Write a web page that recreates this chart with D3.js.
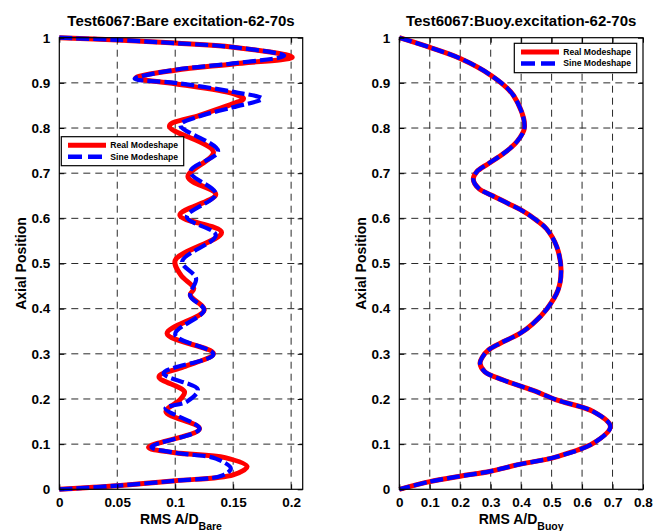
<!DOCTYPE html>
<html><head><meta charset="utf-8">
<script src="https://cdn.jsdelivr.net/npm/d3@7"></script>
<style>
body{margin:0;background:#fff}
text{font-family:"Liberation Sans",Arial,Helvetica,sans-serif;font-weight:bold;fill:#000}
</style>
</head><body>
<svg id="chart" width="654" height="531"></svg>
<script>
// ---------- data ----------
const posTicks = [0,0.1,0.2,0.3,0.4,0.5,0.6,0.7,0.8,0.9,1];
const posTickLabels = ["0","0.1","0.2","0.3","0.4","0.5","0.6","0.7","0.8","0.9","1"];
const bareTicks = [0,0.05,0.1,0.15,0.2];
const bareTickLabels = ["0","0.05","0.1","0.15","0.2"];
const buoyTicks = [0,0.1,0.2,0.3,0.4,0.5,0.6,0.7,0.8];
const buoyTickLabels = ["0","0.1","0.2","0.3","0.4","0.5","0.6","0.7","0.8"];
const seriesNames = ["Real Modeshape","Sine Modeshape"];
const titles = ["Test6067:Bare excitation-62-70s","Test6067:Buoy.excitation-62-70s"];
const subLabels = ["Bare","Buoy"];

const bareRealPos = [1.000,0.995,0.988,0.979,0.957,0.942,0.928,0.911,0.898,0.876,0.865,0.854,0.828,0.804,0.747,0.692,0.653,0.607,0.569,0.507,0.474,0.445,0.430,0.397,0.345,0.301,0.271,0.249,0.216,0.198,0.172,0.134,0.093,0.081,0.070,0.050,0.032,0.019,0.008,0.000];
const bareRealVal = [0.000,0.050,0.100,0.150,0.201,0.150,0.100,0.066,0.100,0.150,0.159,0.150,0.121,0.095,0.133,0.111,0.135,0.104,0.140,0.100,0.105,0.116,0.113,0.125,0.093,0.133,0.107,0.086,0.108,0.104,0.092,0.121,0.077,0.100,0.143,0.162,0.150,0.100,0.050,0.000];

const bareSinePos = [1.000,0.995,0.988,0.979,0.960,0.943,0.929,0.909,0.900,0.880,0.865,0.846,0.826,0.806,0.749,0.703,0.654,0.603,0.563,0.504,0.467,0.428,0.397,0.343,0.299,0.257,0.221,0.194,0.179,0.134,0.094,0.081,0.068,0.046,0.030,0.019,0.008,0.000];
const bareSineVal = [0.000,0.050,0.100,0.150,0.194,0.150,0.100,0.065,0.100,0.150,0.175,0.150,0.121,0.1045,0.137,0.113,0.135,0.110,0.135,0.106,0.118,0.113,0.125,0.100,0.133,0.090,0.1195,0.110,0.0916,0.121,0.0795,0.100,0.135,0.148,0.140,0.100,0.050,0.000];

const buoyRealPos = [1.000,0.979,0.954,0.917,0.872,0.802,0.769,0.743,0.721,0.703,0.686,0.666,0.651,0.633,0.618,0.596,0.577,0.537,0.485,0.441,0.400,0.367,0.345,0.323,0.308,0.293,0.279,0.260,0.242,0.219,0.198,0.172,0.139,0.102,0.072,0.054,0.040,0.029,0.017,0.000];
const buoyRealVal = [0.000,0.098,0.200,0.300,0.375,0.411,0.385,0.341,0.292,0.254,0.243,0.261,0.303,0.357,0.401,0.450,0.483,0.517,0.531,0.521,0.485,0.439,0.396,0.330,0.292,0.273,0.265,0.281,0.341,0.439,0.516,0.637,0.693,0.637,0.516,0.386,0.300,0.200,0.100,0.000];

const buoySinePos = [1.000,0.979,0.954,0.917,0.872,0.802,0.769,0.743,0.721,0.703,0.686,0.666,0.651,0.633,0.618,0.596,0.577,0.537,0.485,0.441,0.400,0.367,0.345,0.323,0.308,0.293,0.279,0.260,0.242,0.219,0.198,0.172,0.139,0.102,0.072,0.054,0.040,0.029,0.017,0.000];
const buoySineVal = [0.000,0.098,0.200,0.300,0.375,0.411,0.385,0.341,0.292,0.254,0.243,0.261,0.303,0.357,0.401,0.450,0.483,0.517,0.531,0.521,0.485,0.439,0.396,0.330,0.292,0.273,0.265,0.281,0.341,0.439,0.516,0.637,0.693,0.637,0.516,0.386,0.300,0.200,0.100,0.000];

// ---------- drawing ----------
const svg = d3.select("#chart");
const zip = (p, v) => p.map((d, i) => ({pos: d, val: v[i]}));

const panels = [
  {x0:59.3, x1:302.7, domain:[0,0.21], ticks:bareTicks, labels:bareTickLabels,
   real:zip(bareRealPos,bareRealVal), sine:zip(bareSinePos,bareSineVal),
   title:titles[0], sub:subLabels[0], ylabX:26, leg:{x:61.3,y:136.7,w:122.4,h:29}},
  {x0:399.3, x1:643, domain:[0,0.8], ticks:buoyTicks, labels:buoyTickLabels,
   real:zip(buoyRealPos,buoyRealVal), sine:zip(buoySinePos,buoySineVal),
   title:titles[1], sub:subLabels[1], ylabX:366, leg:{x:514.3,y:43.3,w:122.4,h:29.4}}
];
const yTop = 37.7, yBot = 489.3;
const y = d3.scaleLinear().domain([0,1]).range([yBot, yTop]);

panels.forEach(p => {
  const x = d3.scaleLinear().domain(p.domain).range([p.x0, p.x1]);
  const g = svg.append("g");
  const w = p.x1 - p.x0, h = yBot - yTop;

  // grid
  const gridG = g.append("g");
  gridG.selectAll("line.v").data(p.ticks.filter(t => t > 0 && x(t) < p.x1 - 1)).join("line")
    .attr("x1", d => x(d)).attr("x2", d => x(d)).attr("y1", yTop).attr("y2", yBot);
  gridG.selectAll("line.h").data(posTicks.filter(t => t > 0 && t < 1)).join("line")
    .attr("x1", p.x0).attr("x2", p.x1).attr("y1", d => y(d)).attr("y2", d => y(d));
  gridG.selectAll("line").attr("stroke", "#2a2a2a").attr("stroke-width", 1)
    .attr("stroke-dasharray", "7,5");

  // lines
  const line = d3.line().x(d => x(d.val)).y(d => y(d.pos)).curve(d3.curveCatmullRom.alpha(0.5));
  g.append("path").datum(p.real).attr("d", line).attr("fill", "none")
    .attr("stroke", "#ff0000").attr("stroke-width", 5).attr("stroke-linejoin", "round");
  g.append("path").datum(p.sine).attr("d", line).attr("fill", "none")
    .attr("stroke", "#0000ff").attr("stroke-width", 4.2).attr("stroke-dasharray", "13,4");

  // axes (inward ticks on all sides)
  const fmt = (vals, labs) => d => labs[vals.indexOf(d)];
  const axB = g.append("g").attr("transform", `translate(0,${yBot})`)
    .call(d3.axisBottom(x).tickValues(p.ticks).tickFormat(fmt(p.ticks, p.labels)).tickSizeInner(-5).tickSizeOuter(0).tickPadding(8));
  const axT = g.append("g").attr("transform", `translate(0,${yTop})`)
    .call(d3.axisTop(x).tickValues(p.ticks).tickFormat("").tickSizeInner(-5).tickSizeOuter(0));
  const axL = g.append("g").attr("transform", `translate(${p.x0},0)`)
    .call(d3.axisLeft(y).tickValues(posTicks).tickFormat(fmt(posTicks, posTickLabels)).tickSizeInner(-5).tickSizeOuter(0).tickPadding(9));
  const axR = g.append("g").attr("transform", `translate(${p.x1},0)`)
    .call(d3.axisRight(y).tickValues(posTicks).tickFormat("").tickSizeInner(-5).tickSizeOuter(0));
  [axB, axT, axL, axR].forEach(a => {
    a.select(".domain").remove();
    a.selectAll("line").attr("stroke", "#000");
    a.selectAll("text").style("font-size", "13.5px").attr("fill", "#000");
  });
  axB.selectAll("text").attr("dy", "0.71em");

  // frame
  g.append("rect").attr("x", p.x0).attr("y", yTop).attr("width", w).attr("height", h)
    .attr("fill", "none").attr("stroke", "#000").attr("stroke-width", 1.2);

  // title
  g.append("text").attr("x", (p.x0 + p.x1) / 2).attr("y", 26).attr("text-anchor", "middle")
    .style("font-size", "15px").text(p.title);

  // x label
  const xl = g.append("text").attr("x", (p.x0 + p.x1) / 2).attr("y", 524).attr("text-anchor", "middle")
    .style("font-size", "14px");
  xl.append("tspan").text("RMS A/D");
  xl.append("tspan").attr("dy", 6).style("font-size", "10.5px").text(p.sub);

  // y label
  g.append("text").attr("transform", `translate(${p.ylabX},${(yTop + yBot) / 2}) rotate(-90)`)
    .attr("text-anchor", "middle").style("font-size", "14px").text("Axial Position");

  // legend
  const L = p.leg;
  const lg = g.append("g");
  lg.append("rect").attr("x", L.x).attr("y", L.y).attr("width", L.w).attr("height", L.h)
    .attr("fill", "#fff").attr("stroke", "#000").attr("stroke-width", 1.2);
  const rows = [
    {name: seriesNames[0], color: "#ff0000", dash: null, sw: 5},
    {name: seriesNames[1], color: "#0000ff", dash: "14,6", sw: 4.5}
  ];
  rows.forEach((r, i) => {
    const cy = L.y + 8.6 + i * 11.5;
    lg.append("line").attr("x1", L.x + 6.7).attr("x2", L.x + 44.7).attr("y1", cy).attr("y2", cy)
      .attr("stroke", r.color).attr("stroke-width", r.sw).attr("stroke-dasharray", r.dash);
    lg.append("text").attr("x", L.x + 49).attr("y", cy + 3).style("font-size", "8.6px").text(r.name);
  });
});
</script>
</body></html>
